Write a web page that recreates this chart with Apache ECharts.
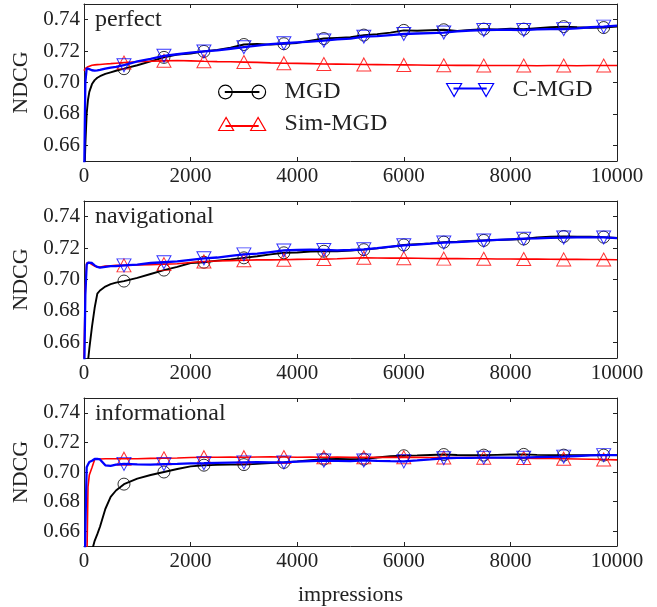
<!DOCTYPE html>
<html><head><meta charset="utf-8">
<script src="https://cdn.jsdelivr.net/npm/echarts@6/dist/echarts.min.js"></script>
<style>html,body{margin:0;padding:0;background:#fff}#c{width:657px;height:607px}</style>
</head><body><div id="c"></div>
<script>
// ---------------- data ----------------
const xs = [0,25,50,75,100,150,200,250,300,400,500,600,750,1000,1250,1500,1750,2000,2250,2500,2750,3000,3250,3500,3750,4000,4250,4500,4750,5000,5250,5500,5750,6000,6250,6500,6750,7000,7250,7500,7750,8000,8250,8500,8750,9000,9250,9500,9750,10000];
const markerXs = [750,1500,2250,3000,3750,4500,5250,6000,6750,7500,8250,9000,9750];
const panelNames = ['perfect','navigational','informational'];
const seriesNames = ['MGD','Sim-MGD','C-MGD'];
const yTicks = [0.66,0.68,0.70,0.72,0.74];

const perfectMGD = [0.63,0.66,0.68,0.689,0.694,0.699,0.7015,0.703,0.704,0.7055,0.7065,0.7075,
0.7088,0.711,0.7135,0.716,0.7178,0.7185,0.7198,0.7208,0.7222,0.7242,
0.7246,0.7241,0.7247,0.7252,0.7266,0.728,0.7284,0.7288,0.7302,0.7308,
0.7318,0.7332,0.733,0.7333,0.7336,0.7328,0.7335,0.734,0.7338,0.7342,
0.734,0.7346,0.7352,0.7356,0.7352,0.7349,0.735,0.7356];
const perfectSim = [0.7075,0.709,0.7095,0.710,0.7105,0.711,0.7112,0.7114,0.7115,0.7118,0.712,0.7123,
0.7127,0.7132,0.7135,0.7138,0.714,0.7138,0.7135,0.7133,0.7132,0.713,
0.7128,0.7125,0.7123,0.7122,0.712,0.7118,0.7117,0.7116,0.7115,0.7114,
0.7113,0.7112,0.7111,0.711,0.711,0.7109,0.7109,0.7108,0.7108,0.7108,
0.7108,0.7107,0.7108,0.7108,0.7107,0.7108,0.7108,0.7108];
const perfectCMGD = [0.63,0.70,0.709,0.7088,0.7085,0.7078,0.7075,0.7077,0.708,0.7088,0.7095,0.710,
0.711,0.7135,0.715,0.717,0.718,0.719,0.7198,0.7205,0.7215,0.7225,
0.7235,0.7245,0.725,0.7255,0.726,0.7267,0.7275,0.728,0.7292,0.7295,
0.7302,0.7309,0.7312,0.7315,0.7318,0.7325,0.733,0.7334,0.7335,0.7336,
0.7334,0.7338,0.734,0.734,0.7345,0.7352,0.7356,0.7362];

const navMGD = [0.60,0.61,0.63,0.648,0.656,0.670,0.682,0.691,0.693,0.6955,0.697,0.698,
0.699,0.701,0.7035,0.706,0.708,0.7105,0.711,0.712,0.7128,0.7138,
0.7148,0.716,0.717,0.7172,0.7178,0.718,0.718,0.7185,0.719,0.7198,
0.7208,0.722,0.7225,0.723,0.7238,0.724,0.7245,0.7249,0.7252,0.7255,
0.7258,0.7268,0.7272,0.7274,0.7273,0.7272,0.727,0.7264];
const navSim = [0.65,0.695,0.7105,0.711,0.7108,0.7095,0.7085,0.708,0.708,0.7085,0.7088,0.709,
0.709,0.7092,0.7095,0.7098,0.710,0.7108,0.7115,0.7118,0.712,0.7123,
0.7125,0.7125,0.7126,0.7128,0.7129,0.713,0.7132,0.7135,0.7138,0.7137,
0.7136,0.7136,0.7135,0.7134,0.7133,0.7133,0.7132,0.7132,0.7131,0.7131,
0.713,0.713,0.7129,0.7128,0.7128,0.7127,0.7127,0.7126];
const navCMGD = [0.63,0.69,0.7095,0.7108,0.711,0.7105,0.709,0.708,0.7075,0.708,0.7085,0.7085,
0.709,0.7095,0.7105,0.711,0.7115,0.7125,0.7135,0.714,0.715,0.716,
0.7165,0.7175,0.7185,0.7188,0.719,0.7188,0.7185,0.7188,0.7192,0.720,
0.721,0.7218,0.7222,0.7228,0.7235,0.7238,0.7243,0.7248,0.7252,0.7256,
0.726,0.7262,0.7265,0.7267,0.7268,0.7268,0.7268,0.7264];

const infoMGD = [0.60,0.60,0.60,0.61,0.62,0.647,0.6535,0.658,0.663,0.675,0.6832,0.6875,
0.6918,0.6955,0.698,0.700,0.702,0.7038,0.7046,0.7048,0.705,0.705,
0.7055,0.706,0.7065,0.7072,0.708,0.7087,0.7088,0.7087,0.7087,0.7098,
0.7106,0.711,0.7112,0.7115,0.7118,0.7115,0.7113,0.7114,0.7116,0.7118,
0.7119,0.7116,0.7114,0.7114,0.7113,0.7114,0.7114,0.7115];
const infoSim = [0.60,0.60,0.63,0.69,0.698,0.703,0.7085,0.709,0.7088,0.709,0.709,0.709,
0.709,0.709,0.7092,0.7093,0.7095,0.7098,0.710,0.710,0.7101,0.710,
0.7101,0.7102,0.7101,0.710,0.7101,0.7100,0.7101,0.7099,0.7099,0.7100,
0.7099,0.7099,0.7099,0.7098,0.7098,0.7098,0.7097,0.7097,0.7096,0.7095,
0.7094,0.7092,0.7091,0.709,0.7088,0.7086,0.7084,0.7082];
const infoCMGD = [0.60,0.66,0.7032,0.705,0.7068,0.7076,0.7088,0.7088,0.7085,0.7045,0.7042,0.705,
0.7055,0.7052,0.705,0.7053,0.7055,0.7058,0.7059,0.7062,0.7064,0.7065,
0.7066,0.7065,0.7065,0.707,0.7074,0.7077,0.7075,0.7073,0.7078,0.7075,
0.7073,0.7072,0.7078,0.7085,0.7093,0.7095,0.7096,0.7097,0.7097,0.7097,
0.7097,0.71,0.7102,0.7104,0.7108,0.7112,0.7114,0.7114];

const panelData = [
  [perfectMGD, perfectSim, perfectCMGD],
  [navMGD, navSim, navCMGD],
  [infoMGD, infoSim, infoCMGD]
];

// ---------------- style / layout ----------------
const FONT = '"Liberation Serif", "DejaVu Serif", serif';
const TXT = '#222';
const gridTops = [4, 201, 398];
const gridH = 157, gridL = 84, gridW = 533;
const styles = [
  {color:'#000000', lw:1.9, symbol:'circle', size:12, rot:0},
  {color:'#ff0000', lw:1.6, symbol:'triangle', size:[14,13], rot:0},
  {color:'#0000ff', lw:2.3, symbol:'triangle', size:[14,13], rot:180}
];
const icons = [
  'path://M7.5,7 L39.5,7 L39.5,8 L7.5,8 Z M1,7.5 A6.5,6.5 0 1 1 14,7.5 A6.5,6.5 0 1 1 1,7.5 Z M33,7.5 A6.5,6.5 0 1 1 46,7.5 A6.5,6.5 0 1 1 33,7.5 Z',
  'path://M0,14 L7.5,1 L15,14 Z M32,14 L39.5,1 L47,14 Z M7.5,9 L39.5,9 L39.5,10 L7.5,10 Z',
  'path://M0,1 L15,1 L7.5,14 Z M32,1 L47,1 L39.5,14 Z M7.5,5.5 L39.5,5.5 L39.5,6.5 L7.5,6.5 Z'
];

const grids = [], xAxes = [], yAxes = [], series = [], graphics = [];
panelData.forEach((sets, p) => {
  grids.push({left: gridL, top: gridTops[p], width: gridW, height: gridH, containLabel: false});
  const xBase = {
    type:'value', gridIndex:p, min:0, max:10000, interval:2000,
    splitLine:{show:false},
    axisLine:{show:true, onZero:false, lineStyle:{color:'#222', width:1}},
    axisTick:{show:true, inside:true, length:4, lineStyle:{color:'#222'}}
  };
  xAxes.push(Object.assign({}, xBase, {
    position:'bottom',
    axisLabel:{show:true, margin:5, fontFamily:FONT, fontSize:21, color:TXT, formatter: v => String(v)},
    name: p === 2 ? 'impressions' : '', nameLocation:'middle', nameGap:38,
    nameTextStyle:{fontFamily:FONT, fontSize:22, color:TXT}
  }));
  xAxes.push(Object.assign({}, xBase, {position:'top', axisLabel:{show:false}}));
  const yBase = {
    type:'value', gridIndex:p, min:0.65, max:0.75,
    splitLine:{show:false},
    axisLine:{show:true, onZero:false, lineStyle:{color:'#222', width:1}},
    axisTick:{show:true, inside:true, length:4, customValues: yTicks, lineStyle:{color:'#222'}}
  };
  yAxes.push(Object.assign({}, yBase, {
    position:'left',
    axisLabel:{show:true, margin:4, customValues: yTicks, fontFamily:FONT, fontSize:21, color:TXT,
      formatter: v => v.toFixed(2)},
    name:'NDCG', nameLocation:'middle', nameGap:43, nameRotate:90,
    nameTextStyle:{fontFamily:FONT, fontSize:22, color:TXT}
  }));
  yAxes.push(Object.assign({}, yBase, {position:'right', axisLabel:{show:false}}));

  sets.forEach((vals, s) => {
    const st = styles[s];
    series.push({
      name: seriesNames[s], type:'line', xAxisIndex:p*2, yAxisIndex:p*2,
      data: xs.map((x,i) => [x, vals[i]]),
      showSymbol:false, symbol:'none', clip:true, silent:true,
      lineStyle:{color:st.color, width:st.lw}, itemStyle:{color:st.color},
      z: 2 + s*2, animation:false
    });
    series.push({
      name: seriesNames[s], type:'scatter', xAxisIndex:p*2, yAxisIndex:p*2,
      data: markerXs.map(mx => [mx, vals[xs.indexOf(mx)]]),
      symbol: st.symbol, symbolSize: st.size, symbolRotate: st.rot, silent:true,
      itemStyle:{color:'rgba(0,0,0,0)', borderColor:st.color, borderWidth:1},
      z: 3 + s*2, animation:false
    });
  });

  graphics.push({type:'text', left: 95, top: gridTops[p] + 4, z: 100,
    style:{text: panelNames[p], font:'24px ' + FONT, fill: TXT}});
});

function legendItem(i){
  return {name: seriesNames[i], icon: icons[i],
    itemStyle:{color:'rgba(0,0,0,0)', borderColor: styles[i].color, borderWidth:1.2}};
}
const legendBase = {
  orient:'vertical', itemWidth:47, itemHeight:15, itemGap:8, selectedMode:false,
  textStyle:{fontFamily:FONT, fontSize:24, color:TXT, padding:[0,0,0,14]}
};

const chart = echarts.init(document.getElementById('c'), null, {renderer:'canvas'});
chart.setOption({
  animation:false,
  backgroundColor:'#fff',
  grid: grids, xAxis: xAxes, yAxis: yAxes, series: series,
  legend:[
    Object.assign({}, legendBase, {left:213, top:75, data:[legendItem(0), legendItem(1)]}),
    Object.assign({}, legendBase, {left:441, top:73, data:[legendItem(2)]})
  ],
  graphic: graphics
});
</script></body></html>
